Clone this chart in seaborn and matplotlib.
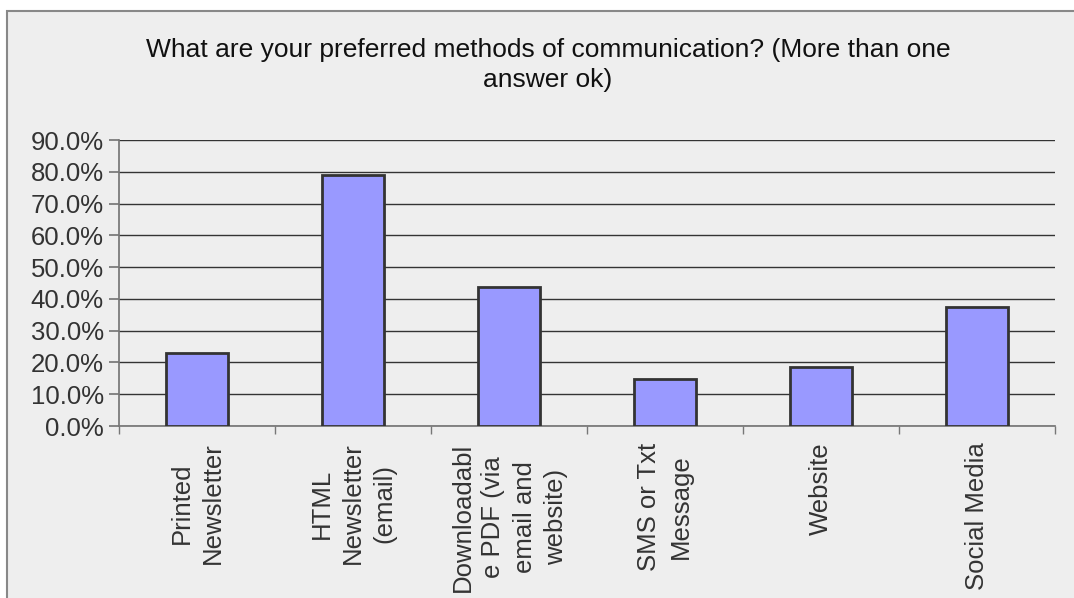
import matplotlib
matplotlib.use("Agg")
import matplotlib.pyplot as plt
import seaborn as sns
import pandas as pd
from matplotlib.patches import Rectangle
from matplotlib.ticker import FuncFormatter, FixedLocator

# Survey answers (share of respondents)
methods = [
    "Printed\nNewsletter",
    "HTML\nNewsletter\n(email)",
    "Downloadabl\ne PDF (via\nemail and\nwebsite)",
    "SMS or Txt\nMessage",
    "Website",
    "Social Media",
]
shares = [22.9, 79.1, 43.6, 14.7, 18.7, 37.4]

df = pd.DataFrame({"method": methods, "share": shares})

bg = "#eeeeee"
txt = "#333333"

sns.set_theme(style="white")
plt.rcParams["font.family"] = ["Liberation Sans", "DejaVu Sans"]

fig = plt.figure(figsize=(10.74, 5.98), dpi=100)
fig.patch.set_facecolor("white")
# chart area background with thin grey border
fig.patches.append(Rectangle((7 / 1074, -0.2), 1.2, 1.2 - 11 / 598, transform=fig.transFigure,
                             facecolor=bg, edgecolor="#888888", linewidth=1.5, zorder=-10))

ax = fig.add_axes([119 / 1074, 1 - 426 / 598, (1055 - 119) / 1074, (426 - 140) / 598])
ax.set_facecolor(bg)

sns.barplot(data=df, x="method", y="share", color="#9999ff", saturation=1,
            edgecolor="#333333", linewidth=2, width=0.4, ax=ax, zorder=3)

ax.set_xlim(-0.5, len(methods) - 0.5)
ax.set_ylim(0, 90)
ax.set_yticks(range(0, 91, 10))
ax.yaxis.set_major_formatter(FuncFormatter(lambda v, p: f"{v:.1f}%"))
ax.grid(axis="y", color="#333333", linewidth=1, zorder=0)
ax.set_axisbelow(True)

for s in ["top", "right"]:
    ax.spines[s].set_visible(False)
ax.spines["left"].set_color("#777777")
ax.spines["bottom"].set_color("#777777")

ax.set_xlabel("")
ax.set_ylabel("")
ax.tick_params(axis="y", labelsize=18.5, labelcolor=txt, length=7, color="#777777",
               left=True, pad=4)
ax.tick_params(axis="x", which="major", length=0, pad=12)
ax.xaxis.set_minor_locator(FixedLocator([i - 0.5 for i in range(len(methods) + 1)]))
ax.tick_params(axis="x", which="minor", length=6, color="#777777", bottom=True)

ax.set_xticks(range(len(methods)))
ax.set_xticklabels(methods, rotation=90, ha="center", va="top", multialignment="center",
                   fontsize=18.5, color=txt, linespacing=1.37)

fig.text(548 / 1074, 1 - 65 / 598,
         "What are your preferred methods of communication? (More than one\nanswer ok)",
         ha="center", va="center", fontsize=19, color="#111111", linespacing=1.27)

fig.savefig("out.png", dpi=100, facecolor=fig.get_facecolor())
